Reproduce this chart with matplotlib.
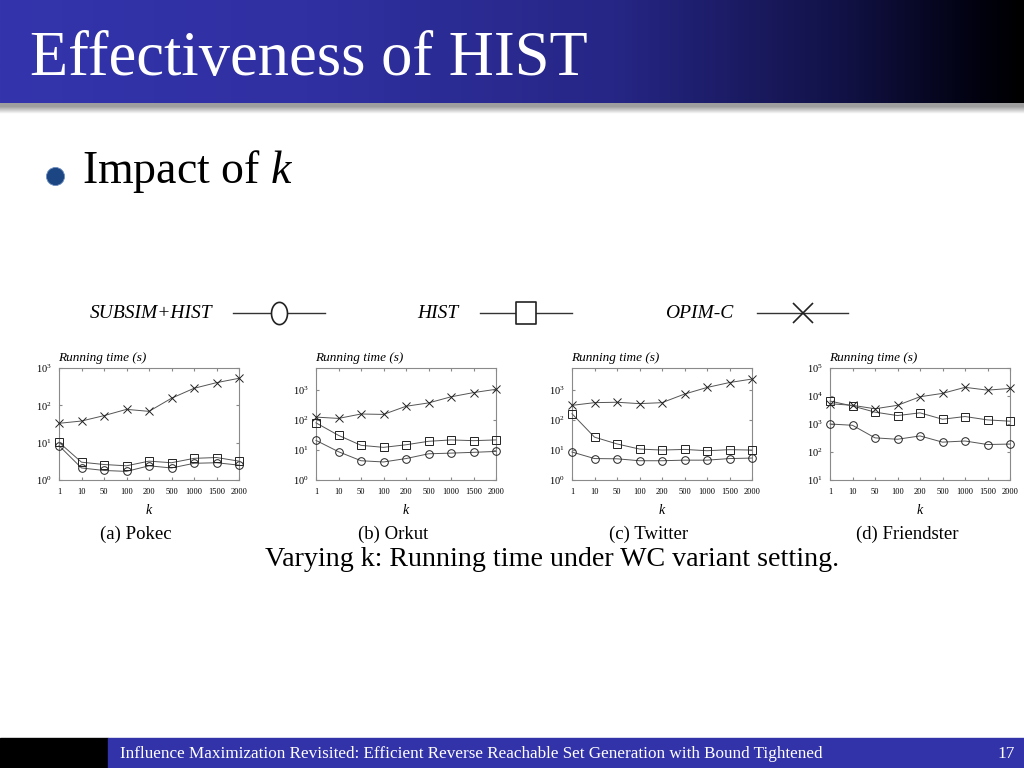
import numpy as np
import matplotlib
matplotlib.use("Agg")
import matplotlib.pyplot as plt
from matplotlib.path import Path
from matplotlib.ticker import LogLocator, FixedLocator, FixedFormatter, NullLocator

plt.rcParams['font.family'] = ['Liberation Serif', 'DejaVu Serif']
plt.rcParams['mathtext.fontset'] = 'custom'
plt.rcParams['mathtext.rm'] = 'Liberation Serif'
plt.rcParams['mathtext.it'] = 'Liberation Serif:italic'

# ---------------- data ----------------
k_labels = ['1', '10', '50', '100', '200', '500', '1000', '1500', '2000']
series_names = ['SUBSIM+HIST', 'HIST', 'OPIM-C']
series_markers = ['o', 's', 'x']

pokec_subsim = [8.3, 2.1, 1.8, 1.7, 2.4, 2.1, 2.8, 2.9, 2.5]
pokec_hist = [10.2, 3.0, 2.6, 2.4, 3.2, 2.9, 3.8, 4.0, 3.2]
pokec_opim = [33, 38, 53, 78, 69, 155, 286, 405, 530]

orkut_subsim = [21, 8.8, 4.4, 4.0, 5.2, 7.5, 7.9, 8.4, 9.0]
orkut_hist = [81, 31, 14.4, 12.3, 15, 19.6, 21.8, 20.6, 21.8]
orkut_opim = [126, 114, 160, 155, 290, 375, 600, 830, 1070]

twitter_subsim = [8.6, 5.2, 5.1, 4.4, 4.4, 4.6, 4.6, 5.2, 5.4]
twitter_hist = [163, 27, 16, 10.8, 10, 10.5, 9.5, 10.3, 10]
twitter_opim = [311, 383, 395, 355, 383, 740, 1230, 1800, 2350]

friend_subsim = [1000, 900, 320, 285, 375, 225, 247, 185, 192]
friend_hist = [6600, 4400, 2650, 2000, 2500, 1480, 1850, 1400, 1260]
friend_opim = [5300, 4650, 3500, 4650, 9400, 12400, 20400, 16200, 18600]

panel_captions = ['(a) Pokec', '(b) Orkut', '(c) Twitter', '(d) Friendster']
panel_data = [
    (pokec_subsim, pokec_hist, pokec_opim),
    (orkut_subsim, orkut_hist, orkut_opim),
    (twitter_subsim, twitter_hist, twitter_opim),
    (friend_subsim, friend_hist, friend_opim),
]
panel_ylims = [(1, 1000), (1, 5500), (1, 5500), (10, 1e5)]

W, H = 1024, 768
fig = plt.figure(figsize=(W / 100, H / 100), dpi=100)

# ---------------- background / slide decoration ----------------
bg = fig.add_axes([0, 0, 1, 1], zorder=0)
bg.set_xlim(0, W)
bg.set_ylim(H, 0)
bg.axis('off')

# title bar gradient
pos = [0, 0.3, 0.6, 0.82, 0.95, 1.0]
cols = np.array([(52, 52, 172), (48, 48, 162), (38, 38, 134), (18, 18, 72), (2, 2, 18), (0, 0, 0)]) / 255
xs = np.linspace(0, 1, 512)
grad = np.stack([np.interp(xs, pos, cols[:, c]) for c in range(3)], axis=-1)[None, :, :]
bg.imshow(grad, extent=(0, W, 103, 0), aspect='auto', interpolation='bilinear', zorder=1)
# shadow under the title bar
sh = np.concatenate([np.full(6, 0.62), np.linspace(0.62, 1.0, 14)])
shadow = np.stack([sh, sh, sh], axis=-1)[:, None, :]
bg.imshow(shadow, extent=(0, W, 114, 103), aspect='auto', interpolation='bilinear', zorder=1)

bg.text(30, 75, 'Effectiveness of HIST', color='white', fontsize=45, va='baseline', ha='left', zorder=3)

# bullet
bg.scatter([55], [176], s=170, color='#1b4683', edgecolors='#6f8fbf', linewidths=0.6, zorder=3)
bg.text(82, 183, r'Impact of $\mathit{k}$', fontsize=33, va='baseline', ha='left', zorder=3)

# footer
bg.add_patch(plt.Rectangle((0, 738), 108, 30, color='black', zorder=1))
bg.add_patch(plt.Rectangle((108, 738), W - 108, 30, color='#3333a9', zorder=1))
bg.text(120, 754, 'Influence Maximization Revisited: Efficient Reverse Reachable Set Generation with Bound Tightened',
        color='white', fontsize=12.3, va='center', ha='left', zorder=3)
bg.text(1006, 754, '17', color='white', fontsize=12.5, va='center', ha='center', zorder=3)

# legend row (ellipse-shaped circle, as in the stretched slide)
t = np.linspace(0, 2 * np.pi, 60)
ellipse = Path(np.column_stack([0.36 * np.cos(t), 0.5 * np.sin(t)]), closed=True)
tall_square = Path([(-0.45, -0.5), (0.45, -0.5), (0.45, 0.5), (-0.45, 0.5), (-0.45, -0.5)], closed=True)
leg_marker_shapes = [ellipse, tall_square, 'x']
leg_text_x = [90, 417, 665]
leg_line_x = [(233, 325), (480, 572), (757, 848)]
for name, mk, tx, (l0, l1) in zip(series_names, leg_marker_shapes, leg_text_x, leg_line_x):
    bg.text(tx, 314, name, fontsize=14, style='italic', va='center', ha='left', zorder=3)
    bg.plot([l0, l1], [313, 313], color='#333333', lw=1.0, zorder=3)
    bg.plot([(l0 + l1) / 2], [313], marker=mk, markersize=16 if not isinstance(mk, str) else 15,
            mfc='white', mec='#222222', mew=1.2, linestyle='none', zorder=4)

bg.text(552, 560, 'Varying k: Running time under WC variant setting.', fontsize=20.2,
        ha='center', va='center', zorder=3)

# ---------------- panels ----------------
panel_x0 = [59, 316, 572, 830]
ax_w, ax_top, ax_bot = 180, 368, 480
xpos = np.arange(len(k_labels))

for i, (x0, data, ylim, cap) in enumerate(zip(panel_x0, panel_data, panel_ylims, panel_captions)):
    ax = fig.add_axes([x0 / W, 1 - ax_bot / H, ax_w / W, (ax_bot - ax_top) / H], zorder=2)
    for vals, mk in zip(data, series_markers):
        ax.plot(xpos, vals, color='#555555', lw=0.7, marker=mk, markersize=5.5 if mk != 'x' else 6,
                mfc='none', mec='#222222', mew=0.7, clip_on=False, zorder=3)
    ax.set_yscale('log')
    ax.set_ylim(*ylim)
    ax.set_xlim(0, len(k_labels) - 1)
    ax.xaxis.set_major_locator(FixedLocator(xpos))
    ax.xaxis.set_major_formatter(FixedFormatter(k_labels))
    ax.yaxis.set_major_locator(LogLocator(base=10, numticks=10))
    ax.yaxis.set_minor_locator(NullLocator())
    ax.tick_params(axis='x', labelsize=6, direction='in', length=2.5, top=True, pad=6, color='#888888')
    ax.tick_params(axis='y', labelsize=7.5, direction='in', length=2.5, right=True, pad=5, color='#888888')
    for sp in ax.spines.values():
        sp.set_color('#8a8a8a')
        sp.set_linewidth(0.8)
    cx = x0 + ax_w / 2
    bg.text(x0 - 1, 358, 'Running time (s)', fontsize=9.5, style='italic', ha='left', va='center', zorder=3)
    bg.text(cx, 511, 'k', fontsize=10, style='italic', ha='center', va='center', zorder=3)
    bg.text(cx - 13, 534, cap, fontsize=13.5, ha='center', va='center', zorder=3)

fig.savefig('out.png', dpi=100)
